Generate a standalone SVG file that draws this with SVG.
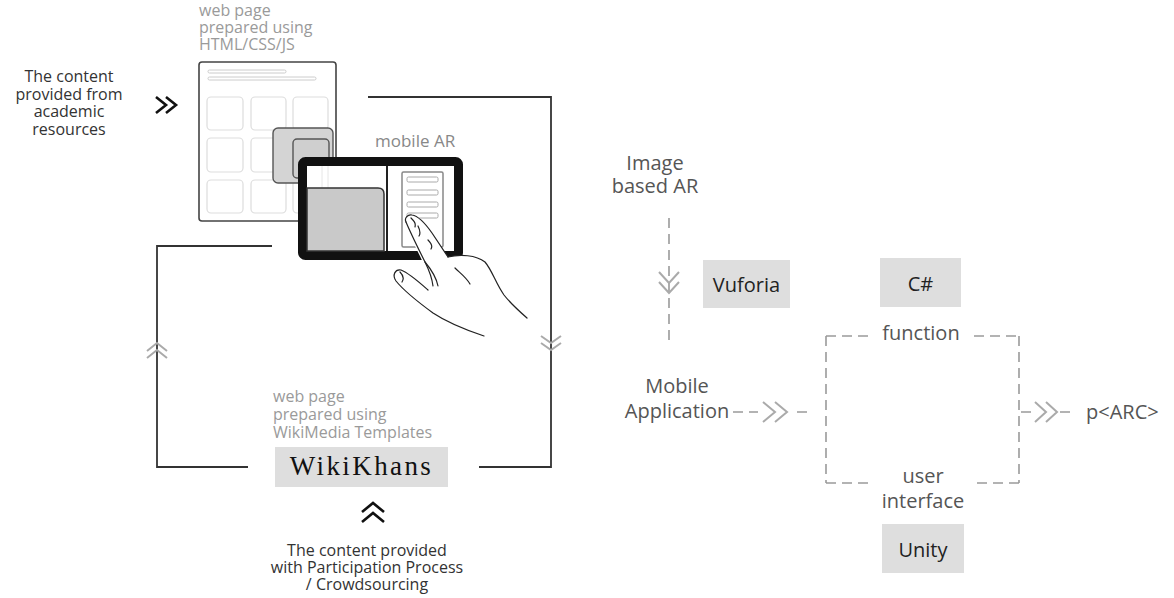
<svg xmlns="http://www.w3.org/2000/svg" width="1174" height="598" viewBox="0 0 1174 598">
  <style>
    text { font-family: "Open Sans", "Liberation Sans", sans-serif; }
    .lbl { font-size: 16px; fill: #333; text-anchor: middle; }
    .soft { font-size: 16px; fill: #9a9a9a; }
    .rt { font-size: 20px; fill: #555; text-anchor: middle; }
    .tag { fill: #dedede; }
    .tagtxt { font-size: 20px; fill: #222; text-anchor: middle; }
    .serif { font-family: "Liberation Serif", "DejaVu Serif", serif; font-size: 27px; letter-spacing: 2.4px; fill: #111; text-anchor: middle; }
    .loop { fill: none; stroke: #333; stroke-width: 1.8; }
    .dash { fill: none; stroke: #9a9a9a; stroke-width: 1.6; stroke-dasharray: 10 6; }
    .chev-dark { fill: none; stroke: #111; stroke-width: 2.6; stroke-linejoin: miter; }
    .chev-light { fill: none; stroke: #aaa; stroke-width: 2; }
    .cell { fill: #fff; stroke: #ddd; stroke-width: 1.2; }
    .hand { fill: none; stroke: #222; stroke-width: 1.2; stroke-linecap: round; stroke-linejoin: round; }
  </style>

  <!-- loop connecting the web page, the app and WikiKhans -->
  <g id="connectors">
    <path class="loop" d="M368 97 H551 V467 H479"/>
    <path class="loop" d="M248 467 H157 V246 H272"/>
    <!-- flow marks on the loop -->
    <path class="chev-light" d="M147 351 L157 343 L167 351 M147 358 L157 350 L167 358"/>
    <path class="chev-light" d="M541 336 L551 343 L561 336 M541 343 L551 350 L561 343"/>
    <!-- inputs -->
    <path class="chev-dark" d="M156 97 L166 105 L156 113 M166 97 L176 105 L166 113"/>
    <path class="chev-dark" d="M362 512 L373 503 L384 512 M362 522 L373 513 L384 522"/>
    <!-- right-hand pipeline -->
    <path class="dash" d="M669 218 V342" stroke-dasharray="9 6"/>
    <path class="chev-light" d="M659 272 L669 283 L679 272 M659 282 L669 293 L679 282"/>
    <path class="dash" d="M733 412 H758 M797 412 H813"/>
    <path class="chev-light" d="M763 402 L775 412 L763 422 M775 402 L787 412 L775 422"/>
    <path class="dash" d="M1021 412 H1032 M1060 412 H1071"/>
    <path class="chev-light" d="M1035 402 L1046 412 L1035 422 M1046 402 L1057 412 L1046 422"/>
  </g>

  <!-- left-hand source text -->
  <g id="academic-source">
    <text class="lbl" x="69" y="82">The content</text>
    <text class="lbl" x="69" y="99.5">provided from</text>
    <text class="lbl" x="69" y="117">academic</text>
    <text class="lbl" x="69" y="134.5">resources</text>
  </g>

  <!-- web page mock-up -->
  <g id="web-page">
    <text class="soft" x="199" y="16">web page</text>
    <text class="soft" x="199" y="33">prepared using</text>
    <text class="soft" x="199" y="50">HTML/CSS/JS</text>
    <rect x="199" y="62" width="137" height="159" rx="3" fill="#fff" stroke="#444" stroke-width="1.6"/>
    <rect x="208" y="70" width="78" height="3" rx="1.5" fill="#fff" stroke="#ccc" stroke-width="1"/>
    <rect x="208" y="77" width="108" height="3" rx="1.5" fill="#fff" stroke="#ccc" stroke-width="1"/>
    <rect class="cell" x="207" y="97" width="36" height="33" rx="4"/>
    <rect class="cell" x="251" y="97" width="35" height="33" rx="4"/>
    <rect class="cell" x="293" y="97" width="35" height="33" rx="4"/>
    <rect class="cell" x="207" y="138" width="36" height="34" rx="4"/>
    <rect class="cell" x="251" y="138" width="35" height="34" rx="4"/>
    <rect class="cell" x="293" y="138" width="35" height="34" rx="4"/>
    <rect class="cell" x="207" y="180" width="36" height="33" rx="4"/>
    <rect class="cell" x="251" y="180" width="35" height="33" rx="4"/>
    <rect class="cell" x="293" y="180" width="35" height="33" rx="4"/>
    <!-- element picked from the page -->
    <rect x="273" y="128" width="60" height="55" rx="5" fill="#d4d4d4" stroke="#555" stroke-width="1.4"/>
    <rect x="293" y="139" width="36" height="39" rx="4" fill="#cfcfcf" stroke="#555" stroke-width="1.4"/>
  </g>

  <!-- tablet with the AR view -->
  <g id="mobile-ar">
    <text x="375" y="147" font-size="17" fill="#888">mobile AR</text>
    <rect x="302.5" y="161.5" width="156" height="94" rx="3" fill="#fff" stroke="#111" stroke-width="9"/>
    <path d="M322 166 V188 M328 166 V188" stroke="#e6e6e6" stroke-width="1"/>
    <path d="M307 188 H378 Q384 188 384 194 V251 H307 Z" fill="#c9c9c9" stroke="#333" stroke-width="1.5"/>
    <path d="M387 166 V251" stroke="#222" stroke-width="2"/>
    <rect x="402" y="172" width="41" height="75" rx="1.5" fill="#fff" stroke="#888" stroke-width="1.5"/>
    <rect x="407" y="177" width="31" height="5" rx="1.5" fill="#fff" stroke="#aaa" stroke-width="1"/>
    <rect x="407" y="190" width="31" height="5" rx="1.5" fill="#fff" stroke="#aaa" stroke-width="1"/>
    <rect x="407" y="202" width="31" height="5" rx="1.5" fill="#fff" stroke="#aaa" stroke-width="1"/>
    <rect x="407" y="213" width="31" height="5" rx="1.5" fill="#fff" stroke="#aaa" stroke-width="1"/>
    <!-- hand touching the screen -->
    <path d="M411 215 C418 214 424 222 432 233 L448 257 C460 254 478 256 486 264 C492 272 496 286 505 296 C512 304 520 311 528 318 L484 338 C468 331 450 325 434 314 C420 304 405 292 396 282 C392 277 394 270 400 270 C408 272 418 282 428 290 L432 284 C428 272 420 256 413 242 C409 234 404 226 406 220 C407 217 409 215 411 215 Z" fill="#fff" stroke="none"/>
    <path class="hand" d="M406 222 C404 218 408 214 412 215 C419 216 425 223 432 233 L448 257"/>
    <path class="hand" d="M406 222 C411 234 418 248 425 262 C429 270 432 278 433 286"/>
    <path class="hand" d="M448 257 C460 254 476 255 485 262 C492 270 496 284 504 295 C511 304 519 311 527 318"/>
    <path class="hand" d="M428 290 C419 282 409 273 401 270 C395 269 392 275 396 281 C404 291 418 302 433 313 C448 323 466 330 484 336"/>
    <path class="hand" d="M425 262 C430 268 436 276 438 286 M400 272 C403 275 404 279 402 282 M418 226 C420 230 421 233 419 236 M428 240 C431 243 433 246 431 249 M455 268 C460 273 466 277 470 284 M411 218 C414 221 416 223 415 227"/>
  </g>

  <!-- WikiKhans node -->
  <g id="wikikhans">
    <text class="soft" x="273" y="402">web page</text>
    <text class="soft" x="273" y="420">prepared using</text>
    <text class="soft" x="273" y="438">WikiMedia Templates</text>
    <rect class="tag" x="275" y="447" width="173" height="40"/>
    <text class="serif" x="361.5" y="475">WikiKhans</text>
  </g>

  <!-- crowdsourced input -->
  <g id="crowdsourcing">
    <text class="lbl" x="367" y="556">The content provided</text>
    <text class="lbl" x="367" y="573">with Participation Process</text>
    <text class="lbl" x="367" y="590">/ Crowdsourcing</text>
  </g>

  <!-- right-hand pipeline nodes -->
  <g id="image-based-ar">
    <text class="rt" x="655" y="170">Image</text>
    <text class="rt" x="655" y="193">based AR</text>
  </g>

  <g id="vuforia">
    <rect class="tag" x="703" y="260" width="87" height="48"/>
    <text class="tagtxt" x="746.5" y="292">Vuforia</text>
  </g>

  <g id="csharp">
    <rect class="tag" x="880" y="258" width="81" height="49"/>
    <text class="tagtxt" x="920.5" y="291">C#</text>
  </g>

  <g id="mobile-application">
    <text class="rt" x="677" y="393">Mobile</text>
    <text class="rt" x="677" y="418">Application</text>
  </g>

  <g id="app-box">
    <path class="dash" d="M826 336 H871 M974 336 H1019 M826 336 V483 M1019 336 V483 M826 483 H870 M977 483 H1019"/>
    <text class="rt" x="921" y="340">function</text>
    <text class="rt" x="923" y="483">user</text>
    <text class="rt" x="923" y="508">interface</text>
  </g>

  <g id="unity">
    <rect class="tag" x="882" y="524" width="82" height="49"/>
    <text class="tagtxt" x="923" y="557">Unity</text>
  </g>

  <g id="parc">
    <text x="1086" y="419" font-size="20" fill="#555">p&lt;ARC&gt;</text>
  </g>
</svg>
